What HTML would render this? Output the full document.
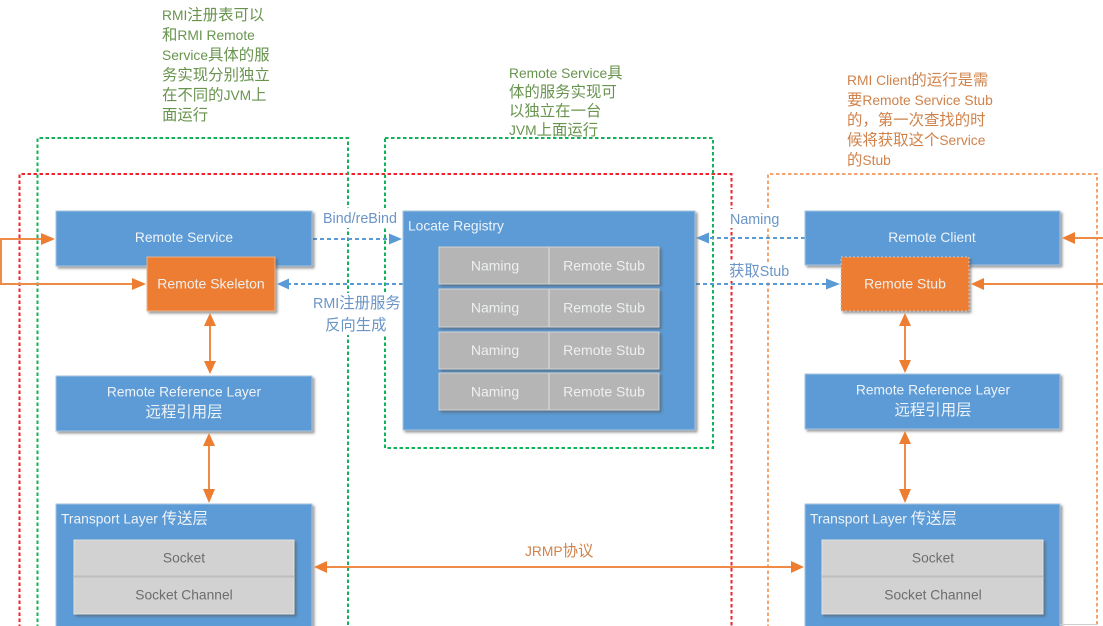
<!DOCTYPE html>
<html><head><meta charset="utf-8"><style>
html,body{margin:0;padding:0;background:#fff;width:1103px;height:626px;overflow:hidden}
svg{display:block}
text{font-family:"Liberation Sans","Noto Sans CJK SC",sans-serif;font-size:13.8px}
.z{font-size:15.400px}
.w{fill:#eef3f9;text-anchor:middle}
.l{fill:#eef3f9}
.g{fill:#eef0f0;text-anchor:middle;font-size:14px}
.d{fill:#6d6d6d;text-anchor:middle}
.gr{fill:#68944e;font-size:13.800px}
.or{fill:#d0824a;font-size:13.800px}
.bl{fill:#6a95c6;font-size:14.300px}
.b{fill:#5b9bd5;stroke:#a9c5e2;stroke-width:1;filter:url(#s)}
.o{fill:#ed7d31;stroke:#e8b594;stroke-width:1;filter:url(#s)}
.c{fill:#d2d2d2;stroke:#e2e2e2;stroke-width:1;filter:url(#s)}
.n{fill:#b5b5b5;stroke:#d2d2d2;stroke-width:1;filter:url(#s)}
.ds{fill:none;stroke-width:2;stroke-dasharray:3.5 2.5}
.ol{stroke:#ed8b47;stroke-width:2;fill:none}
.bd{stroke:#5b9bd5;stroke-width:2;stroke-dasharray:4 3;fill:none}
</style></head><body>
<svg width="1103" height="626" viewBox="0 0 1103 626" xmlns="http://www.w3.org/2000/svg">
<defs>
<filter id="s" x="-10%" y="-10%" width="125%" height="125%"><feDropShadow dx="2" dy="2" stdDeviation="1.2" flood-color="#555" flood-opacity=".6"/></filter>
</defs>

<!-- dashed containers -->
<path class="ds" stroke="#f0222e" d="M19.500 640V174H731.500V640"/>
<path class="ds" stroke="#f0a573" d="M768 640V174H1097V640"/>
<path class="ds" stroke="#12b25a" d="M37.500 640V138H348V640"/>
<path class="ds" stroke="#12b25a" d="M385 138H713V448H385Z"/>

<!-- label knockouts -->
<rect x="320" y="208" width="82" height="20" fill="#fff"/>
<rect x="312" y="293" width="90" height="42" fill="#fff"/>
<rect x="727" y="209" width="56" height="19" fill="#fff"/>
<rect x="727" y="262" width="62" height="19" fill="#fff"/>

<!-- blue dashed connectors -->
<path class="bd" d="M313 239H390"/><path d="M389 233.500L402 239L389 244.500Z" fill="#5b9bd5"/>
<path class="bd" d="M403 284H288"/><path d="M289 278.500L277 284L289 289.500Z" fill="#5b9bd5"/>
<path class="bd" d="M805 238H708"/><path d="M709 232.500L696 238L709 243.500Z" fill="#5b9bd5"/>
<path class="bd" d="M696 284H828"/><path d="M826 278.500L840 284L826 289.500Z" fill="#5b9bd5"/>

<!-- left side blocks -->
<rect class="b" x="56" y="211" width="256" height="55"/>
<text class="w" x="184" y="242">Remote Service</text>
<rect class="o" x="147" y="257" width="128" height="54"/>
<text class="g" x="211" y="288.500">Remote Skeleton</text>
<rect class="b" x="56" y="376" width="256" height="55"/>
<text class="w" x="184" y="396.500">Remote Reference Layer</text>
<text class="w z" x="184" y="417">远程引用层</text>
<rect class="b" x="56" y="504" width="256" height="140"/>
<text class="l" x="61" y="523.500">Transport Layer <tspan class="z">传送层</tspan></text>
<rect class="c" x="74" y="540" width="220" height="74"/>
<path d="M74 576.500H294" stroke="#bdbdbd" stroke-width="2"/>
<text class="d" x="184" y="562.500">Socket</text>
<text class="d" x="184" y="599.500">Socket Channel</text>

<!-- registry -->
<rect class="b" x="403" y="211" width="292" height="219"/>
<text class="l" x="408" y="230.500">Locate Registry</text>
<rect class="n" x="439" y="247" width="220" height="37"/>
<rect class="n" x="439" y="289" width="220" height="38"/>
<rect class="n" x="439" y="332" width="220" height="37"/>
<rect class="n" x="439" y="373" width="220" height="37"/>
<path d="M549 247V284M549 289V327M549 332V369M549 373V410" stroke="#d2d2d2" stroke-width="1.500"/>
<text class="g" x="495" y="270.500">Naming</text><text class="g" x="604" y="270.500">Remote Stub</text>
<text class="g" x="495" y="312.500">Naming</text><text class="g" x="604" y="312.500">Remote Stub</text>
<text class="g" x="495" y="355">Naming</text><text class="g" x="604" y="355">Remote Stub</text>
<text class="g" x="495" y="396.500">Naming</text><text class="g" x="604" y="396.500">Remote Stub</text>

<!-- right side blocks -->
<rect class="b" x="805" y="211" width="255" height="54"/>
<text class="w" x="932" y="242">Remote Client</text>
<rect class="o" x="841" y="257" width="128" height="54" stroke-dasharray="2 2" style="stroke:#ccc"/>
<text class="g" x="905" y="288.500">Remote Stub</text>
<rect class="b" x="805" y="374" width="255" height="55"/>
<text class="w" x="933" y="394.500">Remote Reference Layer</text>
<text class="w z" x="933" y="415">远程引用层</text>
<rect class="b" x="805" y="504" width="255" height="140"/>
<text class="l" x="810" y="523.500">Transport Layer <tspan class="z">传送层</tspan></text>
<rect class="c" x="822" y="540" width="221" height="74"/>
<path d="M822 576.500H1043" stroke="#bdbdbd" stroke-width="2"/>
<text class="d" x="933" y="562.500">Socket</text>
<text class="d" x="933" y="599.500">Socket Channel</text>
<path d="M1060 624.500H1097" stroke="#ccc" stroke-width="1"/>

<!-- orange connectors -->
<path class="ol" d="M0 239H44M1 239V284M0 284H136"/>
<path d="M41 233L55 239L41 245Z" fill="#ed7d31"/>
<path d="M132 278L146 284L132 290Z" fill="#ed7d31"/>
<path class="ol" d="M210 322V366"/>
<path d="M204 326L210 313L216 326ZM204 361L210 374L216 361Z" fill="#ed7d31"/>
<path class="ol" d="M209 442V494"/>
<path d="M203 446L209 433L215 446ZM203 489L209 503L215 489Z" fill="#ed7d31"/>
<path class="ol" d="M322 567H796"/>
<path d="M327 561L314 567L327 573ZM791 561L804 567L791 573Z" fill="#ed7d31"/>
<path class="ol" d="M905 322V365"/>
<path d="M899 326L905 313L911 326ZM899 360L905 373L911 360Z" fill="#ed7d31"/>
<path class="ol" d="M905 440V494"/>
<path d="M899 444L905 431L911 444ZM899 489L905 503L911 489Z" fill="#ed7d31"/>
<path class="ol" d="M1103 238H1072"/>
<path d="M1075 232L1062 238L1075 244Z" fill="#ed7d31"/>
<path class="ol" d="M1103 284H982"/>
<path d="M984 278L971 284L984 290Z" fill="#ed7d31"/>

<!-- connector labels -->
<text class="bl" x="323" y="223">Bind/reBind</text>
<text class="bl" x="313" y="308">RMI<tspan class="z">注册服务</tspan></text>
<text class="bl" x="325" y="330"><tspan class="z">反向生成</tspan></text>
<text class="bl" x="730" y="224">Naming</text>
<text class="bl" x="729" y="276"><tspan class="z">获取</tspan>Stub</text>
<text x="525" y="556" style="fill:#d0824a;font-size:13.800px">JRMP<tspan class="z">协议</tspan></text>

<!-- notes -->
<text class="gr" x="162" y="20">RMI<tspan class="z">注册表可以</tspan></text>
<text class="gr" x="162" y="40"><tspan class="z">和</tspan>RMI Remote</text>
<text class="gr" x="162" y="60">Service<tspan class="z">具体的服</tspan></text>
<text class="gr" x="162" y="80"><tspan class="z">务实现分别独立</tspan></text>
<text class="gr" x="162" y="100"><tspan class="z">在不同的</tspan>JVM<tspan class="z">上</tspan></text>
<text class="gr" x="162" y="120"><tspan class="z">面运行</tspan></text>

<text class="gr" x="509" y="78">Remote Service<tspan class="z">具</tspan></text>
<text class="gr" x="509" y="97"><tspan class="z">体的服务实现可</tspan></text>
<text class="gr" x="509" y="116"><tspan class="z">以独立在一台</tspan></text>
<text class="gr" x="509" y="135">JVM<tspan class="z">上面运行</tspan></text>

<text class="or" x="847" y="85">RMI Client<tspan class="z">的运行是需</tspan></text>
<text class="or" x="847" y="105"><tspan class="z">要</tspan>Remote Service Stub</text>
<text class="or" x="847" y="125"><tspan class="z">的，第一次查找的时</tspan></text>
<text class="or" x="847" y="145"><tspan class="z">候将获取这个</tspan>Service</text>
<text class="or" x="847" y="165"><tspan class="z">的</tspan>Stub</text>
</svg>
</body></html>
